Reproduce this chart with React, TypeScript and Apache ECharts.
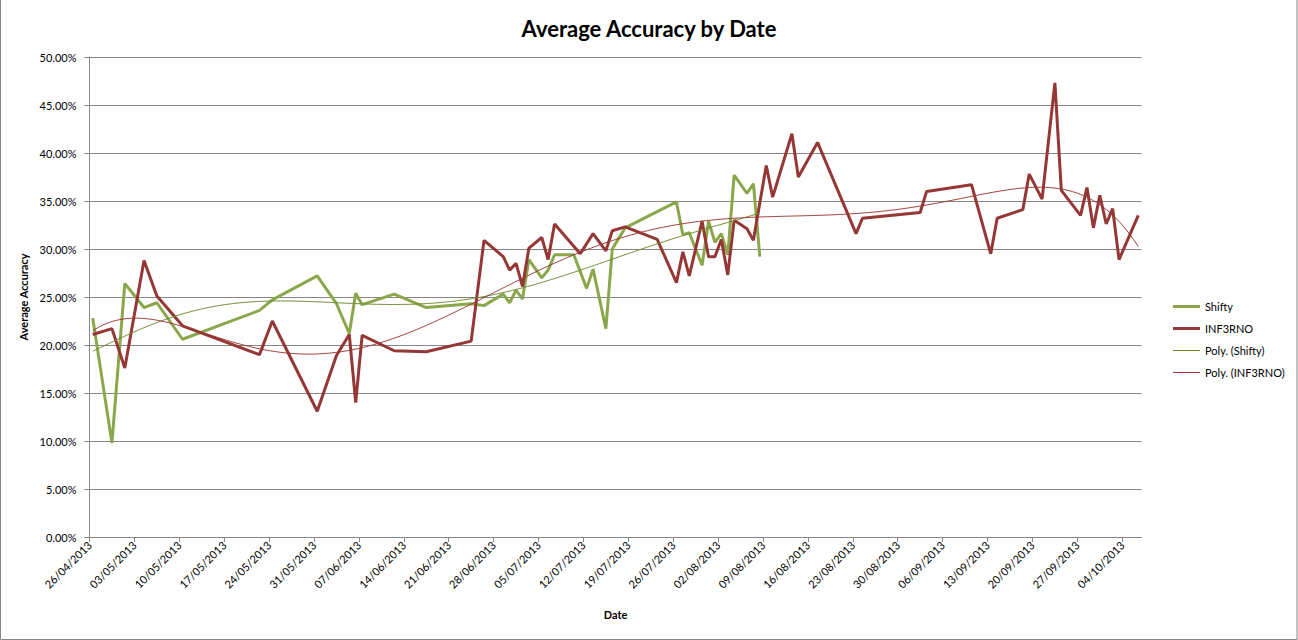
import React, { useEffect, useRef } from "react";
import * as echarts from "echarts";

const START_DATE = "2013-04-26";
const AXIS_DAYS = 164;
const TICK_STEP_DAYS = 7;
const TITLE = "Average Accuracy by Date";
const X_NAME = "Date";
const Y_NAME = "Average Accuracy";
const Y_MIN = 0;
const Y_MAX = 50;
const Y_STEP = 5;

const seriesNames = ["Shifty", "INF3RNO", "Poly. (Shifty)", "Poly. (INF3RNO)"];
const trendOrders = [6, 6];

const shiftyDates = [
  "2013-04-26", "2013-04-29", "2013-05-01", "2013-05-04", "2013-05-06", "2013-05-10",
  "2013-05-22", "2013-05-24", "2013-05-31", "2013-06-03", "2013-06-05", "2013-06-06",
  "2013-06-07", "2013-06-12", "2013-06-17", "2013-06-24", "2013-06-26", "2013-06-29",
  "2013-06-30", "2013-07-01", "2013-07-02", "2013-07-03", "2013-07-05", "2013-07-06",
  "2013-07-07", "2013-07-10", "2013-07-12", "2013-07-13", "2013-07-15", "2013-07-16",
  "2013-07-18", "2013-07-26", "2013-07-27", "2013-07-28", "2013-07-30", "2013-07-31",
  "2013-08-01", "2013-08-02", "2013-08-03", "2013-08-04", "2013-08-06", "2013-08-07",
  "2013-08-08",
];
const shiftyValues = [
  22.8, 9.8, 26.4, 23.9, 24.4, 20.6,
  23.6, 24.7, 27.2, 24.3, 21.2, 25.4,
  24.2, 25.3, 23.9, 24.3, 24.1, 25.3,
  24.4, 25.7, 24.8, 28.9, 27.0, 27.8,
  29.4, 29.4, 25.9, 27.9, 21.7, 30.0,
  32.2, 34.9, 31.5, 31.7, 28.3, 32.9,
  30.7, 31.6, 29.4, 37.7, 35.8, 36.8,
  29.2,
];

const infernoDates = [
  "2013-04-26", "2013-04-29", "2013-05-01", "2013-05-04", "2013-05-06", "2013-05-10",
  "2013-05-22", "2013-05-24", "2013-05-31", "2013-06-03", "2013-06-05", "2013-06-06",
  "2013-06-07", "2013-06-12", "2013-06-17", "2013-06-24", "2013-06-26", "2013-06-29",
  "2013-06-30", "2013-07-01", "2013-07-02", "2013-07-03", "2013-07-05", "2013-07-06",
  "2013-07-07", "2013-07-11", "2013-07-13", "2013-07-15", "2013-07-16", "2013-07-18",
  "2013-07-23", "2013-07-26", "2013-07-27", "2013-07-28", "2013-07-30", "2013-07-31",
  "2013-08-01", "2013-08-02", "2013-08-03", "2013-08-04", "2013-08-06", "2013-08-07",
  "2013-08-09", "2013-08-10", "2013-08-13", "2013-08-14", "2013-08-17", "2013-08-23",
  "2013-08-24", "2013-09-02", "2013-09-03", "2013-09-10", "2013-09-13", "2013-09-14",
  "2013-09-18", "2013-09-19", "2013-09-21", "2013-09-23", "2013-09-24", "2013-09-27",
  "2013-09-28", "2013-09-29", "2013-09-30", "2013-10-01", "2013-10-02", "2013-10-03",
  "2013-10-06",
];
const infernoValues = [
  21.1, 21.7, 17.6, 28.8, 25.1, 22.0,
  19.0, 22.5, 13.1, 18.9, 21.1, 14.0,
  21.0, 19.4, 19.3, 20.4, 30.9, 29.2,
  27.8, 28.5, 26.1, 30.1, 31.2, 28.9,
  32.6, 29.5, 31.6, 29.8, 31.9, 32.3,
  31.0, 26.5, 29.7, 27.2, 32.9, 29.2,
  29.2, 31.0, 27.3, 33.0, 32.1, 30.9,
  38.7, 35.4, 42.0, 37.5, 41.1, 31.6,
  33.2, 33.8, 36.0, 36.7, 29.5, 33.2,
  34.1, 37.8, 35.2, 47.3, 36.1, 33.5,
  36.4, 32.2, 35.6, 32.6, 34.2, 28.9,
  33.5,
];

const DAY_MS = 86400000;
const startMs = Date.parse(START_DATE + "T00:00:00Z");
function dayPos(d: string): number {
  return (Date.parse(d + "T00:00:00Z") - startMs) / DAY_MS + 0.5;
}
function fmtDay(v: number): string {
  const dt = new Date(startMs + Math.round(v) * DAY_MS);
  const dd = String(dt.getUTCDate()).padStart(2, "0");
  const mm = String(dt.getUTCMonth() + 1).padStart(2, "0");
  return `${dd}/${mm}/${dt.getUTCFullYear()}`;
}

function polyFit(xs: number[], ys: number[], order: number) {
  const n = xs.length;
  const mean = xs.reduce((a, b) => a + b, 0) / n;
  const scale = Math.max(...xs.map((x) => Math.abs(x - mean))) || 1;
  const ts = xs.map((x) => (x - mean) / scale);
  const m = order + 1;
  const A: number[][] = Array.from({ length: m }, () => new Array(m + 1).fill(0));
  for (let i = 0; i < n; i++) {
    const p: number[] = [];
    let v = 1;
    for (let k = 0; k < 2 * order + 1; k++) {
      p.push(v);
      v *= ts[i];
    }
    for (let r = 0; r < m; r++) {
      for (let c = 0; c < m; c++) A[r][c] += p[r + c];
      A[r][m] += p[r] * ys[i];
    }
  }
  for (let col = 0; col < m; col++) {
    let piv = col;
    for (let r = col + 1; r < m; r++) if (Math.abs(A[r][col]) > Math.abs(A[piv][col])) piv = r;
    const tmp = A[col];
    A[col] = A[piv];
    A[piv] = tmp;
    for (let r = 0; r < m; r++) {
      if (r === col) continue;
      const f = A[r][col] / A[col][col];
      for (let c = col; c <= m; c++) A[r][c] -= f * A[col][c];
    }
  }
  const coef = A.map((row, i) => row[m] / row[i]);
  return (x: number) => {
    const t = (x - mean) / scale;
    let s = 0;
    let p = 1;
    for (const c of coef) {
      s += c * p;
      p *= t;
    }
    return s;
  };
}

function trendPoints(xs: number[], ys: number[], order: number): number[][] {
  const f = polyFit(xs, ys, order);
  const lo = Math.min(...xs);
  const hi = Math.max(...xs);
  const out: number[][] = [];
  for (let x = lo; x <= hi + 1e-9; x += 0.25) out.push([x, f(x)]);
  return out;
}

const FONT = "Lato, 'Open Sans', sans-serif";
const THICK_ICON = "path://M0,0H27V3H0Z";
const THIN_ICON = "path://M0,0H27V1H0Z";

export default function App() {
  const ref = useRef<HTMLDivElement>(null);
  useEffect(() => {
    if (!ref.current) return;
    const chart = echarts.init(ref.current, undefined, { renderer: "svg" });
    const shiftyX = shiftyDates.map(dayPos);
    const infernoX = infernoDates.map(dayPos);
    const shiftyData = shiftyX.map((x, i) => [x, shiftyValues[i]]);
    const infernoData = infernoX.map((x, i) => [x, infernoValues[i]]);
    const tickValues: number[] = [];
    for (let v = 0; v <= AXIS_DAYS; v += TICK_STEP_DAYS) tickValues.push(v);

    const green = "#8AA84B";
    const red = "#953735";
    const greenTrend = "#6E8C2E";
    const redTrend = "#9A3A38";
    const gray = "#868686";

    chart.setOption({
      animation: false,
      backgroundColor: "#ffffff",
      textStyle: { fontFamily: FONT },
      title: {
        text: TITLE,
        left: "center",
        top: 12,
        textStyle: { fontFamily: FONT, fontWeight: "bold", fontSize: 22, color: "#000" },
      },
      grid: { left: 89.5, right: 156.5, top: 57, bottom: 103 },
      legend: {
        orient: "vertical",
        left: 1168,
        top: 296,
        itemWidth: 27,
        itemHeight: 14,
        itemGap: 11,
        textStyle: { fontFamily: FONT, fontSize: 11, color: "#000" },
        data: [
          { name: seriesNames[0], icon: THICK_ICON },
          { name: seriesNames[1], icon: THICK_ICON },
          { name: seriesNames[2], icon: THIN_ICON },
          { name: seriesNames[3], icon: THIN_ICON },
        ],
      },
      xAxis: {
        type: "value",
        min: 0,
        max: AXIS_DAYS,
        name: X_NAME,
        nameLocation: "middle",
        nameGap: 72,
        nameTextStyle: { fontFamily: FONT, fontWeight: "bold", fontSize: 11, color: "#000" },
        axisLine: { show: true, lineStyle: { color: gray, width: 1 } },
        axisTick: { show: true, length: 5, lineStyle: { color: gray }, customValues: tickValues },
        axisLabel: {
          rotate: 45,
          fontFamily: FONT,
          fontSize: 11,
          color: "#000",
          margin: 6,
          customValues: tickValues,
          formatter: (v: number) => fmtDay(v),
        },
        splitLine: { show: false },
      },
      yAxis: {
        type: "value",
        min: Y_MIN,
        max: Y_MAX,
        interval: Y_STEP,
        name: Y_NAME,
        nameLocation: "middle",
        nameRotate: 90,
        nameGap: 56,
        nameTextStyle: { fontFamily: FONT, fontWeight: "bold", fontSize: 11, color: "#000" },
        axisLine: { show: true, lineStyle: { color: gray, width: 1 } },
        axisTick: { show: true, length: 5, lineStyle: { color: gray } },
        axisLabel: {
          fontFamily: FONT,
          fontSize: 11,
          color: "#000",
          margin: 13,
          formatter: (v: number) => v.toFixed(2) + "%",
        },
        splitLine: { show: true, lineStyle: { color: gray, width: 1 } },
      },
      graphic: [
        {
          type: "rect",
          shape: { x: 0.5, y: -5, width: 1296.5, height: 644.5 },
          style: { fill: "none", stroke: gray, lineWidth: 1 },
          silent: true,
        },
      ],
      series: [
        {
          name: seriesNames[0],
          type: "line",
          data: shiftyData,
          symbol: "none",
          lineStyle: { color: green, width: 3 },
          itemStyle: { color: green },
          z: 3,
        },
        {
          name: seriesNames[1],
          type: "line",
          data: infernoData,
          symbol: "none",
          lineStyle: { color: red, width: 3 },
          itemStyle: { color: red },
          z: 4,
        },
        {
          name: seriesNames[2],
          type: "line",
          data: trendPoints(shiftyX, shiftyValues, trendOrders[0]),
          symbol: "none",
          lineStyle: { color: greenTrend, width: 1 },
          itemStyle: { color: greenTrend },
          z: 5,
        },
        {
          name: seriesNames[3],
          type: "line",
          data: trendPoints(infernoX, infernoValues, trendOrders[1]),
          symbol: "none",
          lineStyle: { color: redTrend, width: 1 },
          itemStyle: { color: redTrend },
          z: 6,
        },
      ],
    });
    return () => chart.dispose();
  }, []);
  return (
    <div
      ref={ref}
      style={{ position: "absolute", left: 0, top: 0, width: 1298, height: 640 }}
    />
  );
}
